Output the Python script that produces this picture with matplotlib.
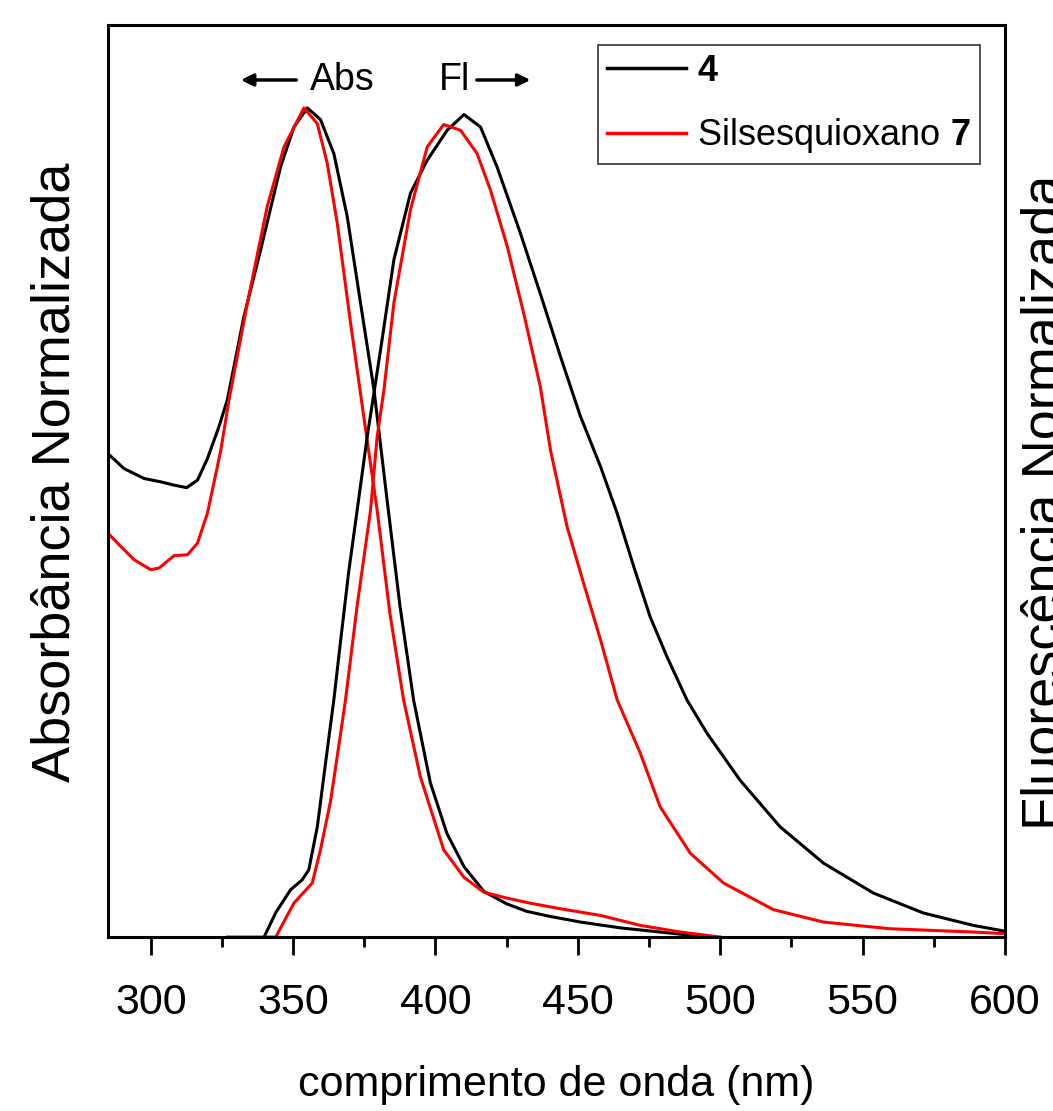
import matplotlib
matplotlib.use("Agg")
import matplotlib.pyplot as plt
from matplotlib.ticker import MultipleLocator

plt.rcParams['font.family'] = ['Liberation Sans', 'DejaVu Sans']
plt.rcParams['mathtext.fontset'] = 'custom'
plt.rcParams['mathtext.rm'] = 'Liberation Sans'
plt.rcParams['mathtext.bf'] = 'Liberation Sans:bold'

# absorbance, compound 4
abs4_x = [285, 290.6, 297.7, 303.5, 308.2, 312.6, 316.4, 319.9, 324, 326.9, 332.7, 338.6, 345.6,
          350.3, 355, 359.6, 364.3, 369, 373.7, 378.4, 383, 387.5, 392.3, 398.2, 404, 410, 417,
          425, 432, 440, 451, 465, 479, 489.5, 495]
abs4_y = [0.583, 0.565, 0.553, 0.549, 0.545, 0.542, 0.551, 0.577, 0.616, 0.648, 0.748, 0.829,
          0.929, 0.977, 1.0, 0.986, 0.945, 0.869, 0.764, 0.66, 0.527, 0.40, 0.286, 0.186, 0.125,
          0.085, 0.055, 0.04, 0.031, 0.025, 0.018, 0.011, 0.006, 0.002, 0.0]

# absorbance, silsesquioxane 7
abs7_x = [285, 289.5, 294.2, 300, 302.9, 308.2, 312.9, 316.4, 319.9, 324.6, 327.5, 333.9, 340.9,
          346.8, 353.8, 358.5, 362, 365.5, 370.2, 374.8, 379.5, 384, 388.8, 394.7, 402.9, 410,
          417, 425, 433, 444, 458, 472, 486, 500]
abs7_y = [0.487, 0.471, 0.455, 0.443, 0.445, 0.46, 0.461, 0.475, 0.511, 0.587, 0.648, 0.764,
          0.881, 0.953, 1.0, 0.981, 0.933, 0.861, 0.74, 0.628, 0.515, 0.39, 0.286, 0.193, 0.105,
          0.072, 0.054, 0.047, 0.041, 0.034, 0.026, 0.014, 0.006, 0.0]

# fluorescence, compound 4
fl4_x = [339.8, 344, 349.1, 353.2, 355.5, 358.5, 362, 364.3, 366.7, 369.5, 372.5, 376, 380.7,
         385.4, 391.2, 397.1, 404.1, 410, 415.8, 421.6, 429.8, 436.8, 443.9, 450.9, 458, 463.8,
         469.6, 475.4, 481.3, 488.3, 495.3, 507, 521, 536.3, 553.8, 571.3, 588.9, 600]
fl4_y = [0.0, 0.03, 0.057, 0.069, 0.081, 0.133, 0.226, 0.286, 0.358, 0.44, 0.515, 0.603, 0.708,
         0.817, 0.897, 0.937, 0.973, 0.992, 0.977, 0.929, 0.849, 0.776, 0.70, 0.628, 0.567,
         0.511, 0.447, 0.386, 0.338, 0.286, 0.246, 0.189, 0.133, 0.089, 0.053, 0.029, 0.014,
         0.007]

# fluorescence, silsesquioxane 7
fl7_x = [327, 343.9, 347, 350.3, 356.7, 359.6, 363.2, 366.7, 368.4, 372.5, 377.2, 379.5, 381.9,
         385.4, 391.2, 397.1, 402.9, 408.8, 414.6, 419.3, 425.2, 431, 436.8, 440.4, 446.2, 452,
         458, 463.8, 471.9, 478.9, 489.5, 501.2, 518.7, 536.3, 559.6, 588.9, 600]
fl7_y = [0.0, 0.0, 0.02, 0.041, 0.065, 0.105, 0.165, 0.246, 0.286, 0.40, 0.515, 0.603, 0.66,
         0.765, 0.877, 0.953, 0.98, 0.973, 0.945, 0.901, 0.833, 0.752, 0.664, 0.587, 0.495,
         0.427, 0.358, 0.286, 0.222, 0.157, 0.101, 0.065, 0.033, 0.018, 0.01, 0.006, 0.004]

fig = plt.figure(figsize=(10.53, 11.11), dpi=100)
ax = fig.add_axes([0.1026, 0.1566, 0.8518, 0.8209])

lw = 2.2
ax.plot(abs4_x, abs4_y, color='black', lw=lw, label=r'$\mathbf{4}$')
ax.plot(abs7_x, abs7_y, color='red', lw=lw, label=r'Silsesquioxano $\mathbf{7}$')
ax.plot(fl4_x, fl4_y, color='black', lw=lw)
ax.plot(fl7_x, fl7_y, color='red', lw=lw)

ax.set_xlim(285, 600)
ax.set_ylim(0, 1.10)
ax.xaxis.set_major_locator(MultipleLocator(50))
ax.xaxis.set_minor_locator(MultipleLocator(25))
ax.tick_params(axis='x', which='major', direction='out', length=13, width=2, labelsize=31, pad=20)
ax.tick_params(axis='x', which='minor', direction='out', length=7, width=2)
ax.set_yticks([])
for s in ax.spines.values():
    s.set_linewidth(2.2)

ax.set_xlabel('comprimento de onda (nm)', fontsize=31)
ax.xaxis.set_label_coords(0.5, -0.14)
ax.set_ylabel('Absorbância Normalizada', fontsize=39)
ax.yaxis.set_label_coords(-0.031, 0.51)

ax2 = ax.twinx()
ax2.set_yticks([])
ax2.set_ylabel('Fluorescência Normalizada', fontsize=39, rotation=90, va='bottom')
ax2.yaxis.set_label_coords(1.073, 0.477)

ax.text(0.225, 0.9397, 'Abs', transform=ax.transAxes, fontsize=27, ha='left', va='center')
ax.annotate('', xy=(0.145, 0.9397), xytext=(0.213, 0.9397), xycoords='axes fraction',
            arrowprops=dict(arrowstyle='-|>', color='black', lw=2.5, mutation_scale=18))
ax.text(0.369, 0.9397, 'Fl', transform=ax.transAxes, fontsize=27, ha='left', va='center')
ax.annotate('', xy=(0.474, 0.9397), xytext=(0.408, 0.9397), xycoords='axes fraction',
            arrowprops=dict(arrowstyle='-|>', color='black', lw=2.5, mutation_scale=18))

leg = ax.legend(loc='upper left', bbox_to_anchor=(0.546, 0.978), fontsize=26, frameon=True,
                fancybox=False, edgecolor='black', handlelength=2.2, handletextpad=0.3,
                borderpad=0.25, labelspacing=0.75, borderaxespad=0)
leg.get_frame().set_linewidth(1.2)
for line in leg.get_lines():
    line.set_linewidth(2.5)

fig.savefig('out.png', dpi=100)
